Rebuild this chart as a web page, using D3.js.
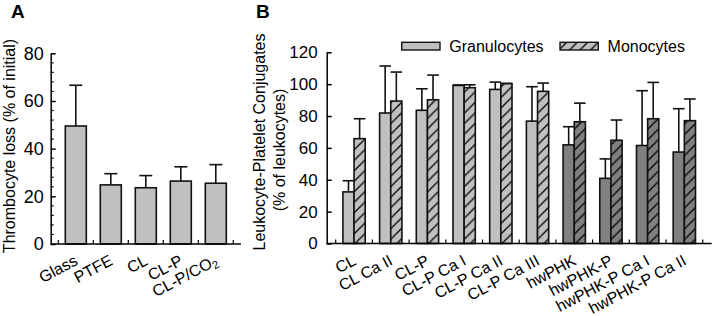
<!DOCTYPE html>
<html><head><meta charset="utf-8">
<script src="https://cdn.jsdelivr.net/npm/d3@7/dist/d3.min.js"></script>
<style>
body{margin:0;background:#fff;}
text{font-family:"Liberation Sans",Arial,sans-serif;fill:#000;}
</style></head>
<body><svg id="c" width="713" height="316"></svg>
<script>
// ---- Data ----
const catsA = ["Glass","PTFE","CL","CL-P","CL-P/CO2"];
const lossA = [49.5, 24.8, 23.6, 26.4, 25.5];
const sdA   = [17.1, 4.7, 5.1, 6.0, 7.8];
const ticksA = [0,20,40,60,80];

const catsB = ["CL","CL Ca II","CL-P","CL-P Ca I","CL-P Ca II","CL-P Ca III","hwPHK","hwPHK-P","hwPHK-P Ca I","hwPHK-P Ca II"];
const materialB = ["CL","CL","CL","CL","CL","CL","hwPHK","hwPHK","hwPHK","hwPHK"];
const seriesB = ["Granulocytes","Monocytes"];
const granB   = [32.4, 81.9, 83.6, 99.2, 96.7, 76.8, 61.9, 40.9, 61.5, 57.4];
const granSD  = [7.0, 29.5, 13.5, 0.3, 4.6, 21.6, 11.4, 12.2, 34.4, 27.2];
const monoB   = [65.8, 89.4, 90.2, 97.8, 100.3, 95.5, 76.4, 64.8, 78.3, 77.1];
const monoSD  = [12.5, 18.2, 15.5, 1.8, 0.2, 5.2, 11.7, 12.7, 22.8, 13.6];
const ticksB = [0,20,40,60,80,100,120];

const LIGHT = "#c0c0c0", DARK = "#808080", STROKE = "#111";

const svg = d3.select("#c");
const defs = svg.append("defs");
function hatch(id, bg){
  const s = 10.5;
  const p = defs.append("pattern").attr("id", id).attr("patternUnits","userSpaceOnUse")
    .attr("width", s).attr("height", s);
  p.append("rect").attr("width", s).attr("height", s).attr("fill", bg);
  p.append("path").attr("d", `M0,${s} L${s},0 M${-s/2},${s/2} L${s/2},${-s/2} M${s/2},${s*1.5} L${s*1.5},${s/2}`)
    .attr("stroke", "#000").attr("stroke-width", 1.3);
}
hatch("hL", LIGHT); hatch("hD", DARK);

// ---- Panel A ----
const axA = 50.7;
const xA = d3.scaleBand().domain(catsA).range([58.3, 233.3]).paddingInner(0.4).paddingOuter(0.2);
const yA = d3.scaleLinear().domain([0,80]).range([244, 53.3]);
const gA = svg.append("g");

gA.append("text").text("A").attr("x", 11).attr("y", 18).attr("font-size", 19).attr("font-weight", "bold");

// bars
const offA = (xA.step() - xA.bandwidth())/2;
catsA.forEach((c,i)=>{
  const x = xA(c), w = xA.bandwidth(), cx = x + w/2;
  const top = yA(lossA[i]), et = yA(lossA[i] + sdA[i]);
  gA.append("line").attr("x1",cx).attr("x2",cx).attr("y1",top).attr("y2",et).attr("stroke",STROKE).attr("stroke-width",1.6);
  gA.append("line").attr("x1",cx-6.5).attr("x2",cx+6.5).attr("y1",et).attr("y2",et).attr("stroke",STROKE).attr("stroke-width",1.6);
  gA.append("rect").attr("x",x).attr("y",top).attr("width",w).attr("height",yA(0)-top)
    .attr("fill",LIGHT).attr("stroke",STROKE).attr("stroke-width",1.6);
});
// y axis
const yAxisA = d3.axisLeft(yA).tickValues(ticksA).tickSizeInner(-5).tickSizeOuter(0).tickPadding(7);
const gya = gA.append("g").attr("transform",`translate(${axA},0)`).call(yAxisA);
gya.selectAll("text").attr("font-size", 18).style("font-family","Liberation Sans, Arial");
gya.selectAll("line,path").attr("stroke","#000").attr("stroke-width",1.5);
d3.range(0, 81, 4).filter(v=>v%20!==0).forEach(v=>{
  gA.append("line").attr("x1",axA).attr("x2",axA+3).attr("y1",yA(v)).attr("y2",yA(v)).attr("stroke","#000").attr("stroke-width",1.2);
});
// x axis
const bndA = catsA.map(c=>xA(c)-offA).concat([xA(catsA[catsA.length-1]) + xA.bandwidth() + offA]);
const endA = bndA[bndA.length-1] + (bndA[0]-axA);
gA.append("line").attr("x1",axA).attr("x2",endA).attr("y1",yA(0)).attr("y2",yA(0)).attr("stroke","#000").attr("stroke-width",1.5);
bndA.forEach(b=>gA.append("line").attr("x1",b).attr("x2",b).attr("y1",yA(0)).attr("y2",yA(0)-4).attr("stroke","#000").attr("stroke-width",1.2));
// x labels
catsA.forEach(c=>{
  const cx = xA(c) + xA.bandwidth()/2 + 3;
  const t = gA.append("text").attr("transform",`translate(${cx},264) rotate(-28)`).attr("text-anchor","end").attr("font-size",16);
  if (c.endsWith("CO2")) {
    t.append("tspan").text("CL-P/CO");
    t.append("tspan").text("2").attr("font-size",11).attr("dy",3);
  } else t.text(c);
});
gA.append("text").text("Thrombocyte loss (% of initial)").attr("transform","translate(15,146) rotate(-90)")
  .attr("text-anchor","middle").attr("font-size",16);

// ---- Panel B ----
const axB = 326.7;
const xB = d3.scaleBand().domain(catsB).range([335.7, 702.7]).paddingInner(0.392).paddingOuter(0.196);
const xInner = d3.scaleBand().domain(seriesB).range([0, xB.bandwidth()]);
const yB = d3.scaleLinear().domain([0,120]).range([243.5, 52.3]);
const gB = svg.append("g");
gB.append("text").text("B").attr("x", 256).attr("y", 18).attr("font-size", 19).attr("font-weight", "bold");

catsB.forEach((c,i)=>{
  const dark = materialB[i] === "hwPHK";
  const vals = [granB[i], monoB[i]], sds = [granSD[i], monoSD[i]];
  seriesB.forEach((s,j)=>{
    const x = xB(c) + xInner(s), w = xInner.bandwidth(), cx = x + w/2;
    const top = yB(vals[j]), et = yB(vals[j] + sds[j]);
    gB.append("line").attr("x1",cx).attr("x2",cx).attr("y1",top).attr("y2",et).attr("stroke",STROKE).attr("stroke-width",1.6);
    gB.append("line").attr("x1",cx-5.8).attr("x2",cx+5.8).attr("y1",et).attr("y2",et).attr("stroke",STROKE).attr("stroke-width",1.6);
    const fill = j===0 ? (dark?DARK:LIGHT) : (dark?"url(#hD)":"url(#hL)");
    gB.append("rect").attr("x",x).attr("y",top).attr("width",w).attr("height",yB(0)-top)
      .attr("fill",fill).attr("stroke",STROKE).attr("stroke-width",1.6);
  });
});
const yAxisB = d3.axisLeft(yB).tickValues(ticksB).tickSizeInner(-5).tickSizeOuter(0).tickPadding(9);
const gyb = gB.append("g").attr("transform",`translate(${axB},0)`).call(yAxisB);
gyb.selectAll("text").attr("font-size", 17).style("font-family","Liberation Sans, Arial");
gyb.selectAll("line,path").attr("stroke","#000").attr("stroke-width",1.5);
const offB = (xB.step() - xB.bandwidth())/2;
const bndB = catsB.map(c=>xB(c)-offB).concat([xB(catsB[catsB.length-1]) + xB.bandwidth() + offB]);
const endB = bndB[bndB.length-1] + (bndB[0]-axB);
gB.append("line").attr("x1",axB).attr("x2",endB).attr("y1",yB(0)).attr("y2",yB(0)).attr("stroke","#000").attr("stroke-width",1.5);
bndB.forEach(b=>gB.append("line").attr("x1",b).attr("x2",b).attr("y1",yB(0)).attr("y2",yB(0)-4).attr("stroke","#000").attr("stroke-width",1.2));
catsB.forEach(c=>{
  const cx = xB(c) + xB.bandwidth()/2 + 3;
  gB.append("text").text(c).attr("transform",`translate(${cx},264) rotate(-28)`).attr("text-anchor","end").attr("font-size",16);
});
gB.append("text").text("Leukocyte-Platelet Conjugates").attr("transform","translate(265,142) rotate(-90)")
  .attr("text-anchor","middle").attr("font-size",16);
gB.append("text").text("(% of leukocytes)").attr("transform","translate(285,150) rotate(-90)")
  .attr("text-anchor","middle").attr("font-size",16);

// legend
const lg = gB.append("g");
seriesB.forEach((s,j)=>{
  const lx = j===0 ? 401.7 : 560;
  lg.append("rect").attr("x",lx).attr("y",42.3).attr("width",38.3).attr("height",7.7)
    .attr("fill", j===0 ? LIGHT : "url(#hL)").attr("stroke",STROKE).attr("stroke-width",1.4);
  lg.append("text").text(s).attr("x", lx+47.6).attr("y",52.3).attr("font-size",16);
});
</script></body></html>
